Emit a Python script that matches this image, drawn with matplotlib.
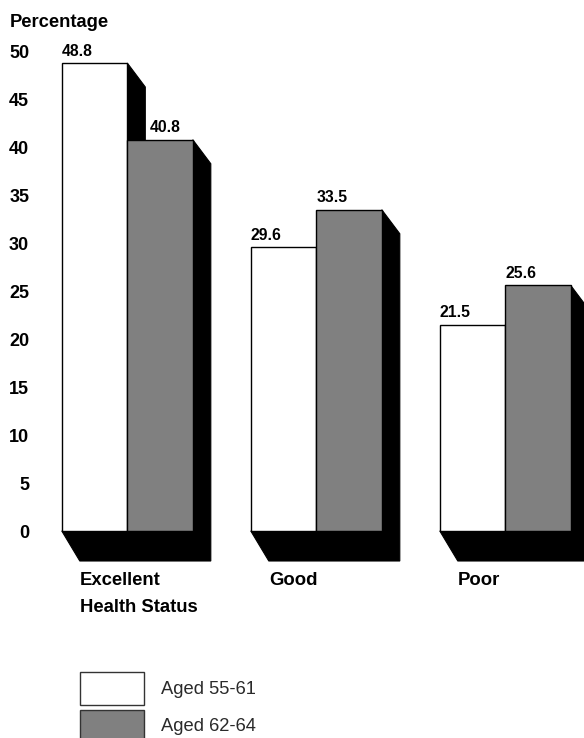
import matplotlib
matplotlib.use("Agg")
import matplotlib.pyplot as plt
from matplotlib.patches import Polygon, Rectangle

# Share of each age group reporting each health status (percent)
categories = ["Excellent", "Good", "Poor"]
series_names = ["Aged 55-61", "Aged 62-64"]
aged_55_61 = [48.8, 29.6, 21.5]
aged_62_64 = [40.8, 33.5, 25.6]
y_ticks = [0, 5, 10, 15, 20, 25, 30, 35, 40, 45, 50]
axis_title = "Health Status"
y_label = "Percentage"

W, H, DPI = 584, 738, 100
fig = plt.figure(figsize=(W / DPI, H / DPI), dpi=DPI)
fig.patch.set_facecolor("white")

FONT = "Liberation Sans"

# Axes placement in pixels: y=0 at row 531, y=50 at row 51.5
y0_px, y50_px = 531.0, 51.5
px_per_unit = (y0_px - y50_px) / 50.0
ax_left_px, ax_right_px = 40.0, 584.0
group_px = 189.0          # distance between group starts
center0_px = 127.3        # boundary between the two bars of the first group
bar_w = 65.5 / group_px

ax = fig.add_axes([ax_left_px / W, (H - y0_px) / H,
                   (ax_right_px - ax_left_px) / W, (y0_px - y50_px) / H])
ax.set_xlim((ax_left_px - center0_px) / group_px, (ax_right_px - center0_px) / group_px)
ax.set_ylim(0, 50)
for s in ax.spines.values():
    s.set_visible(False)
ax.set_xticks([])
ax.set_yticks(y_ticks)
ax.set_yticklabels([str(t) for t in y_ticks], fontfamily=FONT,
                   fontweight="bold", fontsize=13.0)
ax.tick_params(axis="y", length=0, pad=7.8)

# Drop-shadow geometry (pixels converted to data units)
dx = 18.0 / group_px
dy_top = 24.0 / px_per_unit
dy_bot = 30.0 / px_per_unit

gray = "#808080"

# Black shadows: one block per group, plus the step behind the first bar
for i in range(len(categories)):
    g_left = i - bar_w
    g_right = i + bar_w
    vw, vg = aged_55_61[i], aged_62_64[i]
    ax.add_patch(Polygon([(g_right, vg), (g_right + dx, vg - dy_top),
                          (g_right + dx, -dy_bot), (g_left + dx, -dy_bot),
                          (g_left, 0), (g_right, 0)],
                         closed=True, facecolor="black", edgecolor="black",
                         linewidth=0.8, clip_on=False, zorder=1))
    ax.add_patch(Polygon([(i, vw), (i + dx, vw - dy_top), (i + dx, 0), (i, 0)],
                         closed=True, facecolor="black", edgecolor="black",
                         linewidth=0.8, clip_on=False, zorder=1))

# Bars with value labels
for j, (vals, col) in enumerate([(aged_55_61, "white"), (aged_62_64, gray)]):
    xs = [i + (j - 1) * bar_w for i in range(len(categories))]
    ax.bar(xs, vals, width=bar_w, align="edge", color=col, edgecolor="black",
           linewidth=1.0, zorder=2, clip_on=False)
    for i, (x, v) in enumerate(zip(xs, vals)):
        shift = 0.0
        # keep the label clear of the neighbouring bar's shadow
        if j == 1 and aged_55_61[i] > v:
            shift = (18.0 + 4.0) * 0.72
        ax.annotate(f"{v:.1f}", (x, v), xytext=(shift, 3.2), textcoords="offset points",
                    ha="left", va="bottom", fontfamily=FONT, fontweight="bold",
                    fontsize=11.3, zorder=3, annotation_clip=False)

# Category labels under each group
for i, cat in enumerate(categories):
    ax.text(i - bar_w + dx, -53.7 / px_per_unit, cat, ha="left", va="baseline",
            fontfamily=FONT, fontweight="bold", fontsize=13.3, clip_on=False)
ax.text(-bar_w + dx, -80.7 / px_per_unit, axis_title, ha="left", va="baseline",
        fontfamily=FONT, fontweight="bold", fontsize=13.3, clip_on=False)

# Y-axis caption
fig.text(9.8 / W, 1 - 27.3 / H, y_label, ha="left", va="baseline",
         fontfamily=FONT, fontweight="bold", fontsize=13.2)

# Legend
legend_rows = [(672.3, 705.0, "white", 690.0), (710.0, 743.0, gray, 726.5)]
for (top, bot, col, ty), name in zip(legend_rows, series_names):
    fig.patches.append(Rectangle((80 / W, 1 - bot / H), 64.3 / W, (bot - top) / H,
                                 transform=fig.transFigure, facecolor=col,
                                 edgecolor="#333333", linewidth=1.0))
    fig.text(160.7 / W, 1 - ty / H, name, ha="left", va="center",
             fontfamily=FONT, fontsize=13.2, color="#2a2a2a")

fig.savefig("out.png", dpi=DPI, facecolor="white")
